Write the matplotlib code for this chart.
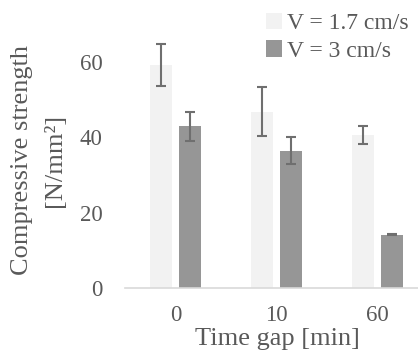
import matplotlib
matplotlib.use('Agg')

import matplotlib.pyplot as plt
import numpy as np

# Daten
time_gaps = ['0', '10', '60']
strength_v17 = [59.3, 46.8, 40.7]
err_v17 = [5.6, 6.5, 2.4]
strength_v3 = [42.9, 36.5, 14.2]
err_v3 = [3.8, 3.6, 0.2]
series_labels = ['V = 1.7 cm/s', 'V = 3 cm/s']

text_col = '#595959'
plt.rcParams['font.family'] = ['Liberation Serif', 'DejaVu Serif']

W, H = 418, 350
fig = plt.figure(figsize=(W / 100, H / 100), dpi=100)
ax = fig.add_axes([125 / W, 62 / H, 303 / W, 256 / H])

x = np.arange(len(time_gaps))
bw = 0.22
err_kw = dict(ecolor='#6f6f6f', elinewidth=1.5, capsize=3.6, capthick=1.5)
b1 = ax.bar(x - 0.14, strength_v17, bw, yerr=err_v17, color='#f2f2f2',
            error_kw=err_kw, label=series_labels[0])
b2 = ax.bar(x + 0.14, strength_v3, bw, yerr=err_v3, color='#969696',
            error_kw=err_kw, label=series_labels[1])

ax.set_xlim(-0.5, 2.5)
ax.set_ylim(0, 68)
ax.set_yticks([0, 20, 40, 60])
ax.set_xticks(x)
ax.set_xticklabels(time_gaps)

for s in ['top', 'right', 'left']:
    ax.spines[s].set_visible(False)
ax.spines['bottom'].set_color('#d9d9d9')
ax.spines['bottom'].set_linewidth(1.2)
ax.tick_params(axis='both', length=0, labelsize=16.5, colors=text_col)
ax.tick_params(axis='x', pad=12)
ax.tick_params(axis='y', pad=16)

fig.text(277 / W, 1 - 339 / H, 'Time gap [min]', ha='center', va='center',
         fontsize=19, color=text_col)
fig.text(22 / W, 1 - 160 / H, 'Compressive strength', rotation=90,
         ha='center', va='center', fontsize=19, color=text_col)
fig.text(55 / W, 1 - 160 / H, '[N/mm²]', rotation=90,
         ha='center', va='center', fontsize=19, color=text_col)

leg = fig.legend(handles=[b1, b2], labels=series_labels, loc='upper left',
                 bbox_to_anchor=(254 / W, 1 - 1 / H), frameon=False,
                 fontsize=17, handlelength=0.7, handleheight=0.7,
                 handletextpad=0.2, labelspacing=0.25, borderpad=0)
for t in leg.get_texts():
    t.set_color(text_col)

fig.savefig('out.png', dpi=100)
